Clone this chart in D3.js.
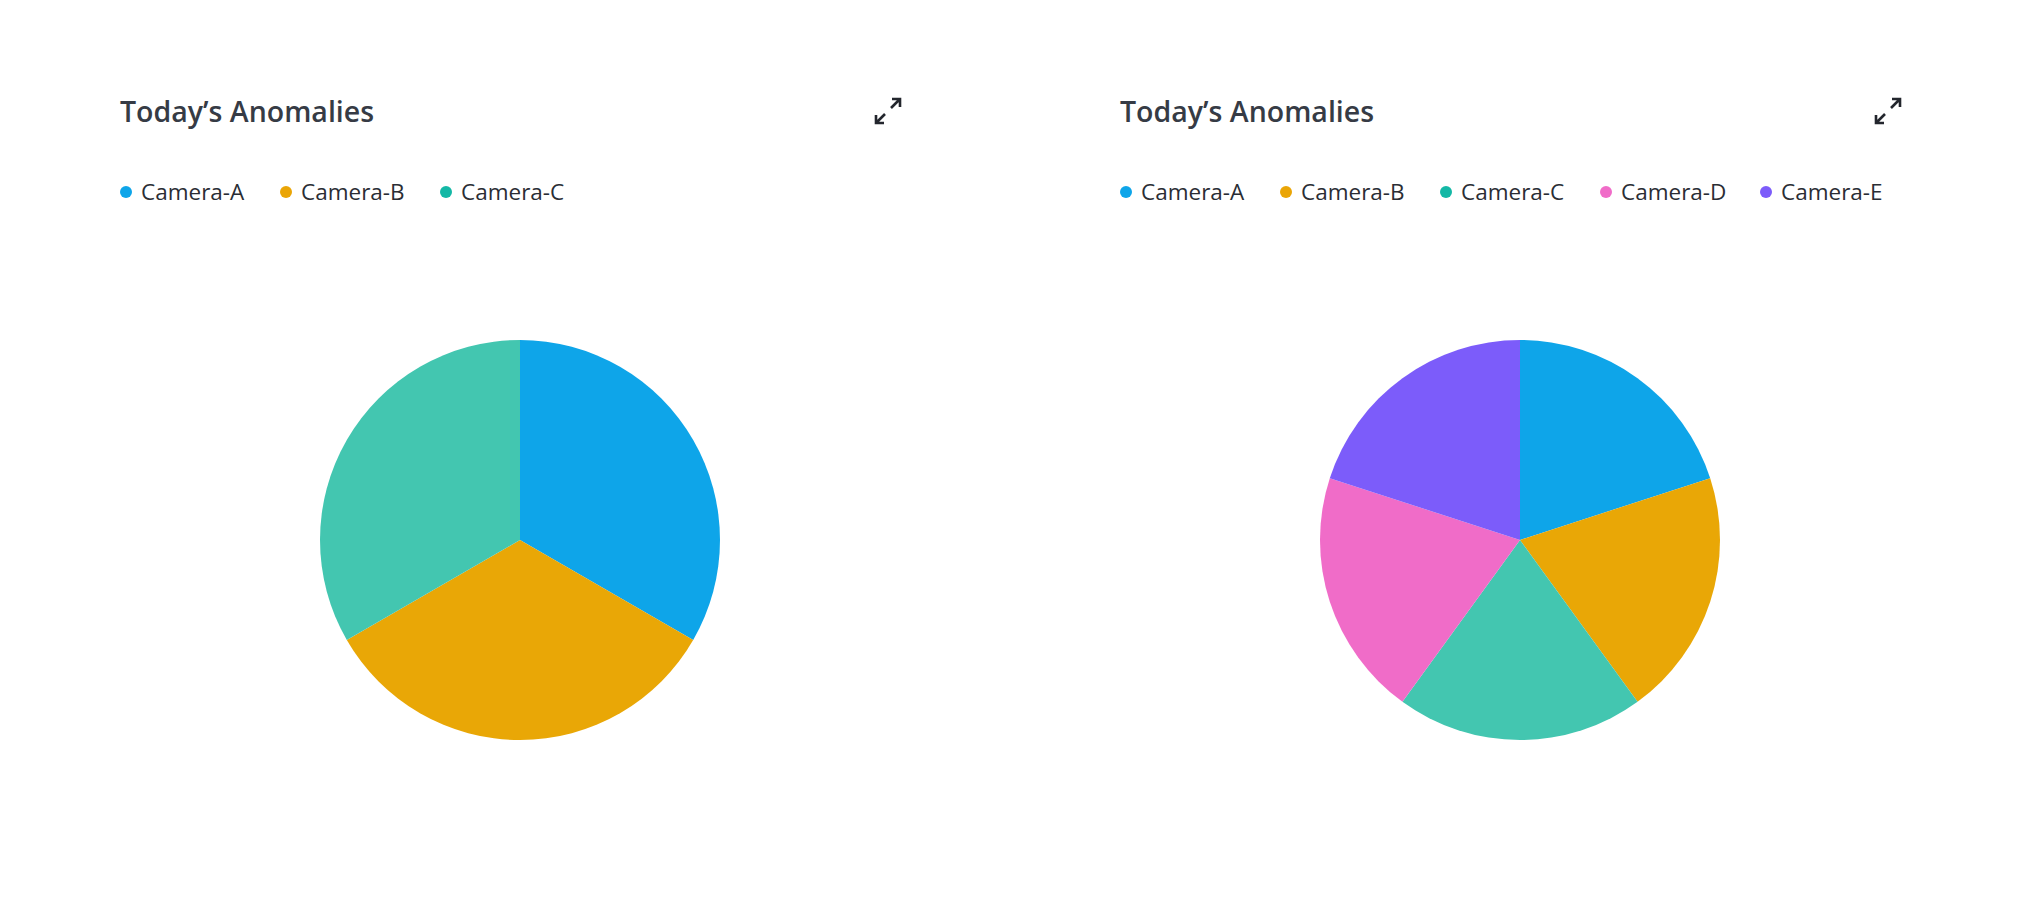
<!DOCTYPE html>
<html lang="en">
  <head>
    <meta charset="utf-8">
    <title>Today's Anomalies</title>
    <script src="https://d3js.org/d3.v7.min.js"></script>
    <style type="text/css">
        body {
          margin: 0;
          background: #fff;
        }
        .title {
          font: 600 28.5px "Open Sans", sans-serif;
          fill: #363b45;
        }
        .legend-label {
          font: 400 22.5px "Open Sans", sans-serif;
          fill: #2a2d34;
        }
        .expand {
          fill: none;
          stroke: #23262d;
          stroke-width: 2.6px;
        }
    </style>
  </head>
  <body>
    <div id="chart"></div>
    <script>
        // chart data
        var titleText = "Today\u2019s Anomalies";
        var cams3 = ["Camera-A", "Camera-B", "Camera-C"];
        var values3 = [1, 1, 1];
        var cams5 = ["Camera-A", "Camera-B", "Camera-C", "Camera-D", "Camera-E"];
        var values5 = [1, 1, 1, 1, 1];

        var pieColors = {
          "Camera-A": "#0ea5e9",
          "Camera-B": "#e9a706",
          "Camera-C": "#43c6b0",
          "Camera-D": "#f06cc8",
          "Camera-E": "#7c5cfa"
        };
        var dotColors = {
          "Camera-A": "#0ea5e9",
          "Camera-B": "#eaa506",
          "Camera-C": "#14b8a6",
          "Camera-D": "#f06cc8",
          "Camera-E": "#7c5cfa"
        };

        var width = 2040, height = 920;

        var svg = d3.select("#chart").append("svg")
            .attr("width", width)
            .attr("height", height);

        var panelWidth = 1000, radius = 200;

        var pie = d3.pie().sort(null).value(function(d) { return d.value; });
        var arc = d3.arc().innerRadius(0).outerRadius(radius);

        function drawPanel(x0, names, values) {
          var g = svg.append("g").attr("transform", "translate(" + x0 + ",0)");

          g.append("text")
              .attr("class", "title")
              .attr("x", 120)
              .attr("y", 122)
              .text(titleText);

          // expand icon
          var icon = g.append("g").attr("transform", "translate(888,111)");
          icon.append("path").attr("class", "expand")
              .attr("d", "M3,-3L12,-12M4,-12H12V-4");
          icon.append("path").attr("class", "expand")
              .attr("d", "M-3,3L-12,12M-12,4V12H-4");

          // legend
          var legend = g.selectAll(".legend-item")
            .data(names)
            .enter().append("g")
              .attr("class", "legend-item")
              .attr("transform", function(d, i) { return "translate(" + (126 + i * 160) + ",192)"; });

          legend.append("circle")
              .attr("r", 6)
              .attr("fill", function(d) { return dotColors[d]; });

          legend.append("text")
              .attr("class", "legend-label")
              .attr("x", 15)
              .attr("dy", "0.35em")
              .text(function(d) { return d; });

          // pie
          var data = names.map(function(n, i) { return {name: n, value: values[i]}; });
          var pg = g.append("g").attr("transform", "translate(520,540)");
          pg.selectAll("path")
            .data(pie(data))
            .enter().append("path")
              .attr("d", arc)
              .attr("fill", function(d) { return pieColors[d.data.name]; });
        }

        drawPanel(0, cams3, values3);
        drawPanel(panelWidth, cams5, values5);
    </script>
  </body>
</html>
